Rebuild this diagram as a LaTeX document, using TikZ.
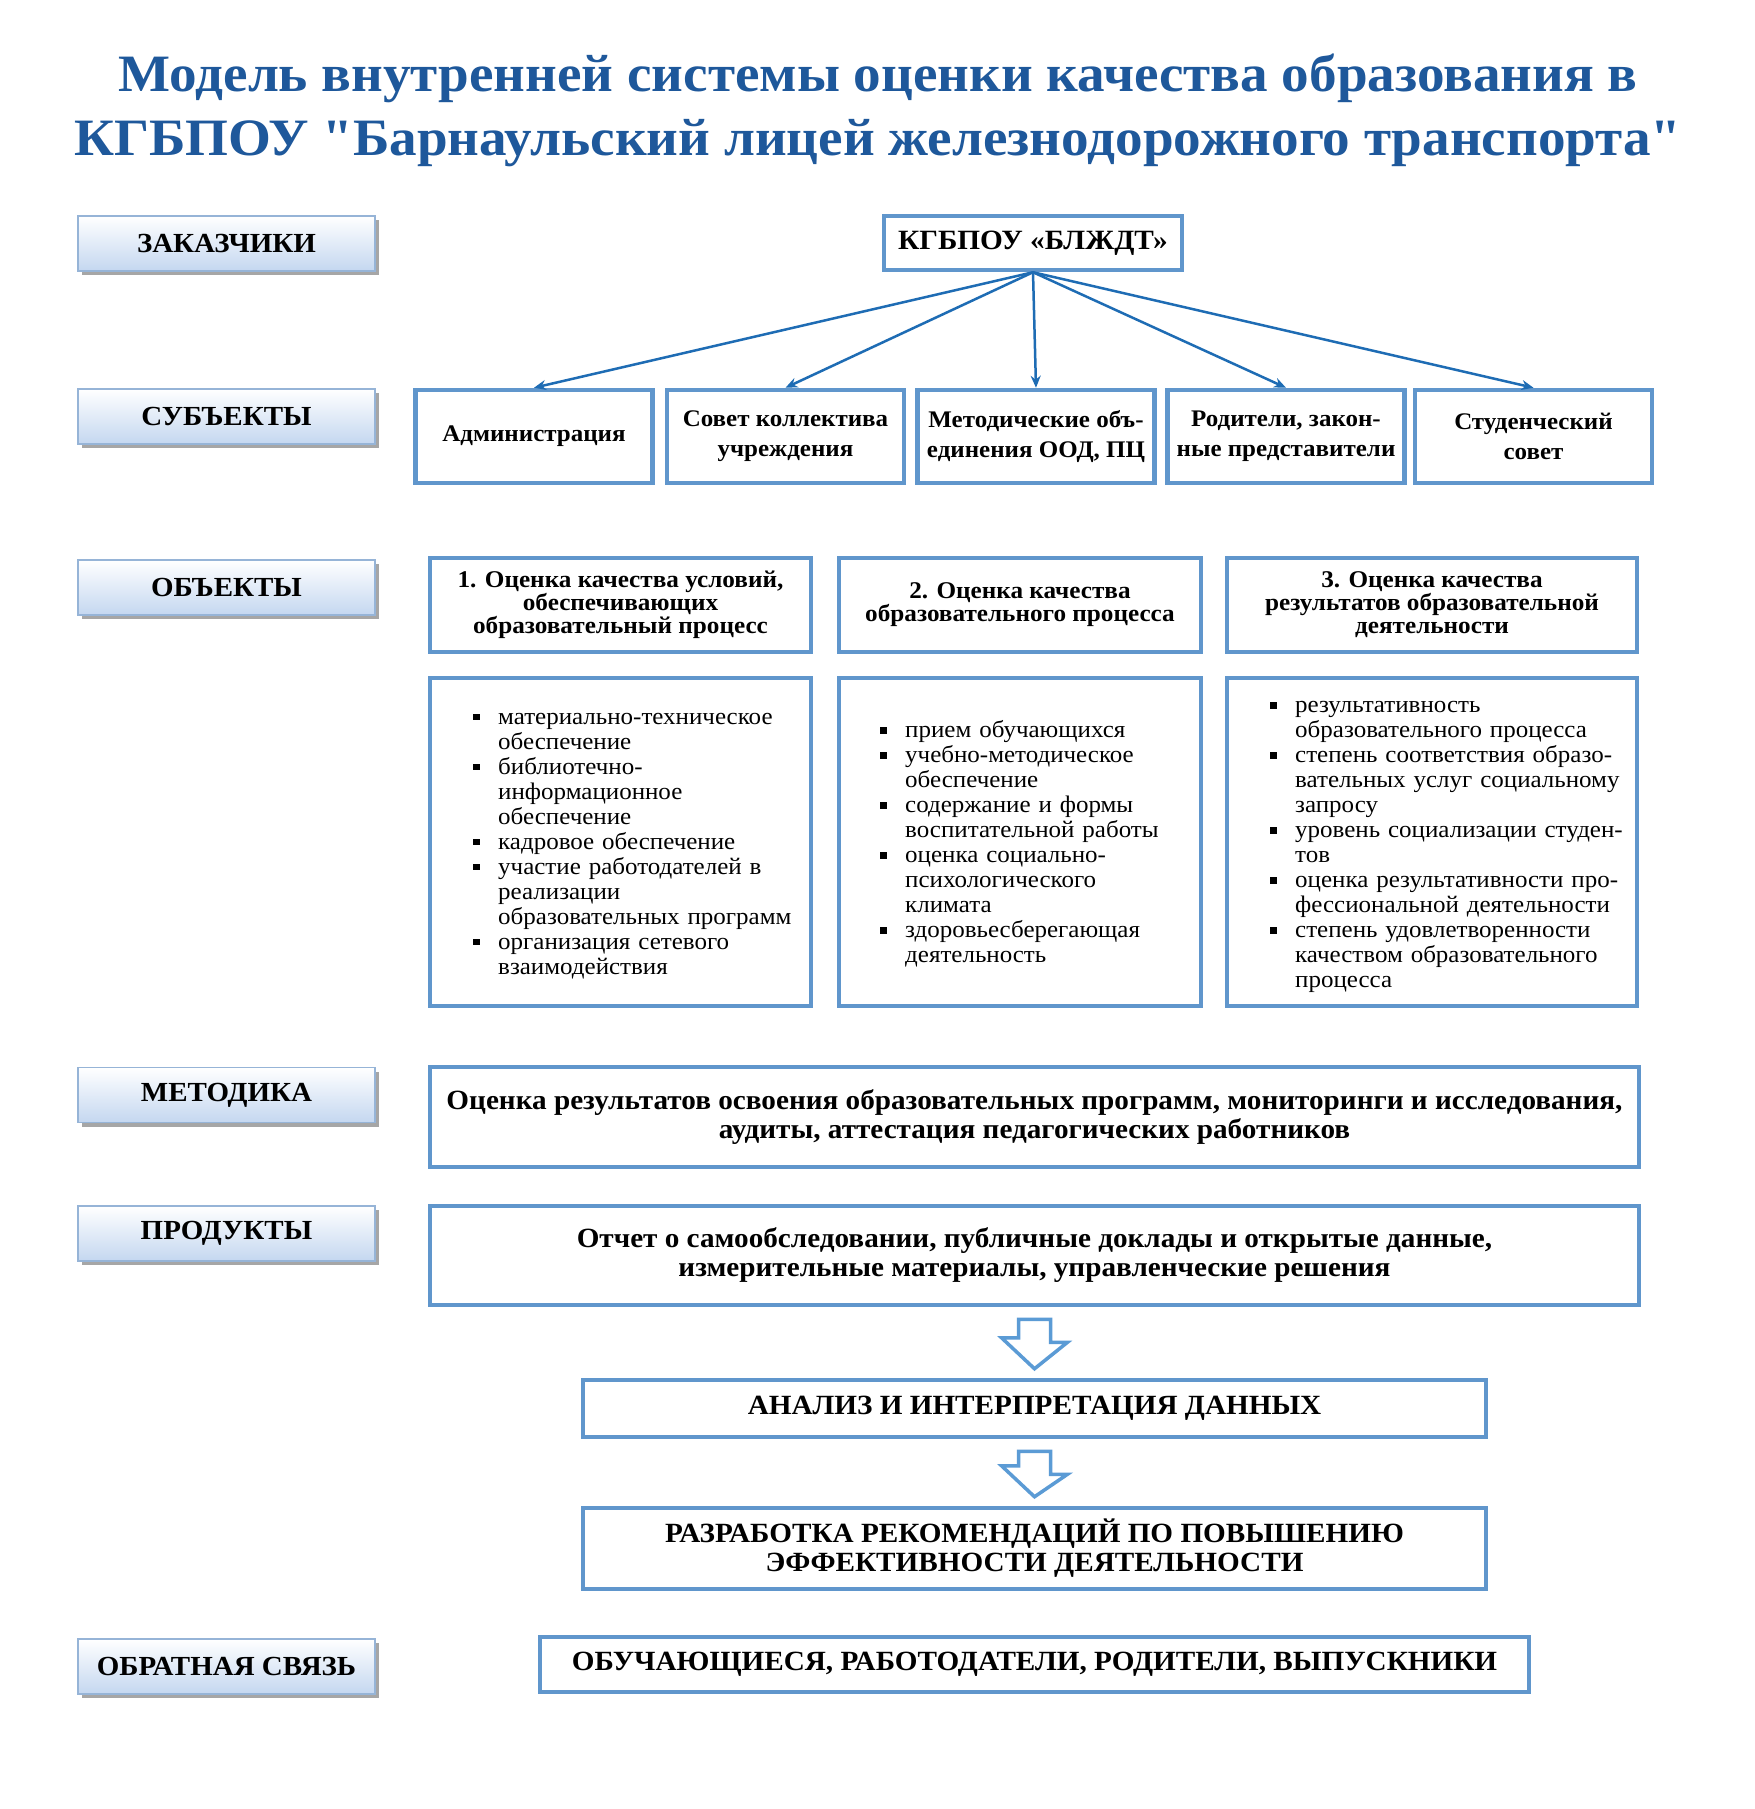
\documentclass[tikz,border=0pt]{standalone}
\usepackage{fontspec}
\setmainfont{Liberation Serif}[FakeStretch=1.05]
\newfontfamily\titlefont{Liberation Serif}[FakeStretch=1.05]
\usetikzlibrary{arrows.meta,shadows}
\definecolor{titleblue}{RGB}{30,88,155}
\definecolor{boxblue}{RGB}{96,150,204}
\definecolor{arrowblue}{RGB}{30,108,180}
\definecolor{lblborder}{RGB}{150,180,215}
\definecolor{lblbottom}{RGB}{196,215,240}
\definecolor{hollowblue}{RGB}{91,155,213}
\newcommand{\bul}{\makebox[25pt][l]{\raisebox{4pt}{\rule{6.5pt}{6.5pt}}}}
\newcommand{\itm}[1]{\hangindent=25pt\hangafter=1\noindent\bul#1\par}
\tikzset{
  lbl/.style={draw=lblborder, line width=1.5pt, top color=white, bottom color=lblbottom,
    minimum width=297pt, minimum height=55pt, inner sep=0pt,
    font=\fontsize{27.6}{30}\selectfont\bfseries,
    general shadow={fill=black!35, shadow xshift=4pt, shadow yshift=-4pt}},
  bx/.style={draw=boxblue, line width=4.5pt, fill=white, align=center, inner sep=0pt},
  subj/.style={bx, minimum width=237pt, minimum height=93pt, font=\fontsize{23.8}{30}\selectfont\bfseries},
  hdr/.style={bx, minimum height=94pt, font=\fontsize{24}{23}\selectfont\bfseries},
  lst/.style={bx, minimum height=328pt},
  lsttext/.style={anchor=west, inner sep=0pt, text width=420pt, align=left, font=\fontsize{23.8}{25}\selectfont},
  wide/.style={bx, font=\fontsize{27.8}{29}\selectfont\bfseries},
  conn/.style={draw=arrowblue, line width=2.5pt, -{Stealth[length=12pt,width=10pt]}},
  hollow/.style={draw=hollowblue, line width=3.5pt, fill=white, line join=miter}
}
\begin{document}
\begin{tikzpicture}[x=1pt,y=-1pt]
\useasboundingbox (0,0) rectangle (1754,1809);
\fill[white] (0,0) rectangle (1754,1809);

% title
\node[font=\titlefont\fontsize{52.5}{64}\selectfont\bfseries, text=titleblue, align=center] (title) at (878,110)
  {Модель внутренней системы оценки качества образования в\\КГБПОУ "Барнаульский лицей железнодорожного транспорта"};

% left labels
\node[lbl] (l1) at (226.5,243.5) {ЗАКАЗЧИКИ};
\node[lbl] (l2) at (226.5,416.5) {СУБЪЕКТЫ};
\node[lbl] (l3) at (226.5,587.5) {ОБЪЕКТЫ};
\node[lbl] (l4) at (226.5,1095) {МЕТОДИКА};
\node[lbl] (l5) at (226.5,1233.5) {ПРОДУКТЫ};
\node[lbl] (l6) at (226.5,1666.5) {ОБРАТНАЯ СВЯЗЬ};

% customer
\node[bx, minimum width=298pt, minimum height=54pt, font=\fontsize{27.9}{30}\selectfont\bfseries] (k) at (1033,243) {КГБПОУ «БЛЖДТ»};

% subjects
\node[subj] (s1) at (534,436.5) {Администрация};
\node[subj] (s2) at (785.5,436.5) {Совет коллектива\\учреждения};
\node[subj] (s3) at (1036,436.5) {Методические объ-\\единения ООД, ПЦ};
\node[subj] (s4) at (1286,436.5) {Родители, закон-\\ные представители};
\node[subj] (s5) at (1533.5,436.5) {Студенческий\\совет};

\foreach \s in {s1,s2,s3,s4,s5} \draw[conn] (k.south) -- (\s.north);

% objects
\node[hdr, minimum width=381pt] (h1) at (620.5,605) {1. Оценка качества условий,\\обеспечивающих\\образовательный процесс};
\node[hdr, minimum width=362pt] (h2) at (1020,605) {2. Оценка качества\\образовательного процесса};
\node[hdr, minimum width=410pt] (h3) at (1432,605) {3. Оценка качества\\результатов образовательной\\деятельности};

\node[lst, minimum width=381pt] (b1) at (620.5,842) {};
\node[lst, minimum width=362pt] (b2) at (1020,842) {};
\node[lst, minimum width=410pt] (b3) at (1432,842) {};

\node[lsttext] (t1) at (473,846) {%
\itm{материально-техническое\newline обеспечение}%
\itm{библиотечно-\newline информационное\newline обеспечение}%
\itm{кадровое обеспечение}%
\itm{участие работодателей в\newline реализации\newline образовательных программ}%
\itm{организация сетевого\newline взаимодействия}};

\node[lsttext] (t2) at (880,844) {%
\itm{прием обучающихся}%
\itm{учебно-методическое\newline обеспечение}%
\itm{содержание и формы\newline воспитательной работы}%
\itm{оценка социально-\newline психологического\newline климата}%
\itm{здоровьесберегающая\newline деятельность}};

\node[lsttext] (t3) at (1270,847) {%
\itm{результативность\newline образовательного процесса}%
\itm{степень соответствия образо-\newline вательных услуг социальному\newline запросу}%
\itm{уровень социализации студен-\newline тов}%
\itm{оценка результативности про-\newline фессиональной деятельности}%
\itm{степень удовлетворенности\newline качеством образовательного\newline процесса}};

% method & products
\node[wide, minimum width=1209pt, minimum height=100pt] (m) at (1034.5,1117)
  {Оценка результатов освоения образовательных программ, мониторинги и исследования,\\аудиты, аттестация педагогических работников};
\node[wide, minimum width=1209pt, minimum height=99pt] (p) at (1034.5,1255.5)
  {Отчет о самообследовании, публичные доклады и открытые данные,\\измерительные материалы, управленческие решения};

\node[wide, minimum width=903pt, minimum height=57pt] (a) at (1034.5,1408.5) {АНАЛИЗ И ИНТЕРПРЕТАЦИЯ ДАННЫХ};
\node[wide, minimum width=903pt, minimum height=81pt] (r) at (1034.5,1548.5) {РАЗРАБОТКА РЕКОМЕНДАЦИЙ ПО ПОВЫШЕНИЮ\\ЭФФЕКТИВНОСТИ ДЕЯТЕЛЬНОСТИ};
\node[wide, minimum width=989pt, minimum height=55pt] (o) at (1034.5,1664.5) {ОБУЧАЮЩИЕСЯ, РАБОТОДАТЕЛИ, РОДИТЕЛИ, ВЫПУСКНИКИ};

% hollow arrows
\draw[hollow] ([xshift=-16pt,yshift=-12pt]p.south) -- ++(32,0) -- ++(0,23) -- ++(17,0) -- ([yshift=9pt]a.north) -- ++(-33,-31) -- ++(17,0) -- cycle;
\draw[hollow] ([xshift=-16pt,yshift=-12pt]a.south) -- ++(32,0) -- ++(0,23) -- ++(17,0) -- ([yshift=9pt]r.north) -- ++(-33,-31) -- ++(17,0) -- cycle;
\end{tikzpicture}
\end{document}
